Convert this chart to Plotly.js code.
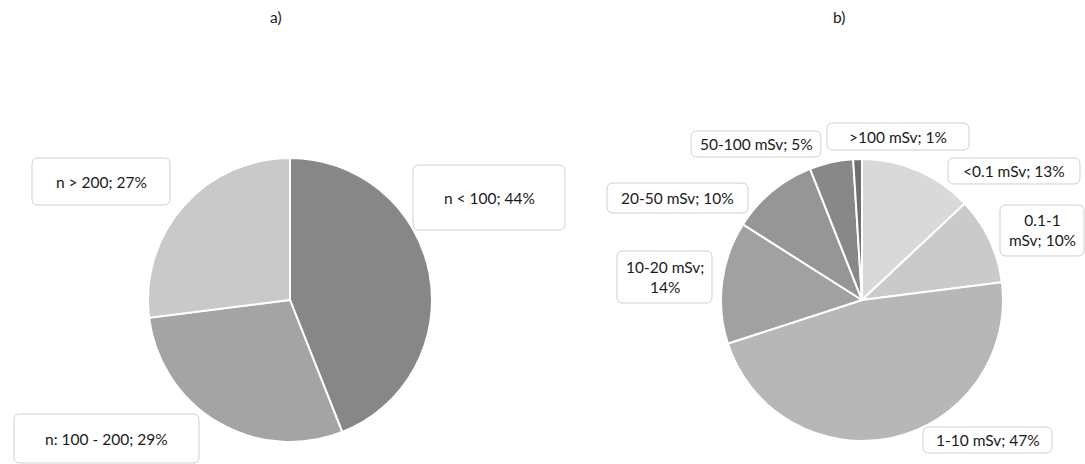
<!DOCTYPE html>
<html>
<head>
<meta charset="utf-8">
<script src="https://cdn.plot.ly/plotly-3.0.1.min.js"></script>
<style>html,body{margin:0;padding:0;background:#fff;} #chart{width:1085px;height:464px;}</style>
</head>
<body>
<div id="chart"></div>
<script>
// Data
const labelsA = ["n < 100", "n: 100 - 200", "n > 200"];
const valuesA = [44, 29, 27];
const colorsA = ["#878787", "#a4a4a4", "#c9c9c9"];

const labelsB = ["<0.1 mSv", "0.1-1 mSv", "1-10 mSv", "10-20 mSv", "20-50 mSv", "50-100 mSv", ">100 mSv"];
const valuesB = [13, 10, 47, 14, 10, 5, 1];
const colorsB = ["#d9d9d9", "#cacaca", "#b7b7b7", "#a1a1a1", "#969696", "#888888", "#6f6f6f"];

// Label box display text (line breaks as in reference)
const boxTextA = ["n < 100; 44%", "n: 100 - 200; 29%", "n > 200; 27%"];
const boxTextB = ["<0.1 mSv; 13%", "0.1-1<br>mSv; 10%", "1-10 mSv; 47%", "10-20 mSv;<br>14%", "20-50 mSv; 10%", "50-100 mSv; 5%", ">100 mSv; 1%"];

// Layout positions (pixels)
const W = 1085, H = 464;
const boxesA = [[413,165,565,230],[14,414,199,463],[32,158,170,205]];
const boxesB = [[948,158,1080,184],[1000,205,1084,256],[923,427,1052,453],[617,251,712,303],[607,183,748,213],[691,131,821,157],[827,123,969,150]];

function px(x){return x/W;}
function py(y){return 1 - y/H;}
function roundRect(b, r){
  const [x0,y0,x1,y1] = b;
  const p = (x,y)=> px(x).toFixed(5)+","+py(y).toFixed(5);
  return "M"+p(x0+r,y0)+" L"+p(x1-r,y0)+" Q"+p(x1,y0)+" "+p(x1,y0+r)+
         " L"+p(x1,y1-r)+" Q"+p(x1,y1)+" "+p(x1-r,y1)+
         " L"+p(x0+r,y1)+" Q"+p(x0,y1)+" "+p(x0,y1-r)+
         " L"+p(x0,y0+r)+" Q"+p(x0,y0)+" "+p(x0+r,y0)+" Z";
}

const FONT = "Lato, Carlito, Calibri, sans-serif";
const shapes = [], annotations = [];
function addBoxes(boxes, texts){
  boxes.forEach((b,i)=>{
    shapes.push({type:"path", xref:"paper", yref:"paper", path: roundRect(b,6),
      line:{color:"#cfcfcf", width:1}, fillcolor:"#ffffff", layer:"above"});
    annotations.push({xref:"paper", yref:"paper", x: px((b[0]+b[2])/2), y: py((b[1]+b[3])/2),
      xanchor:"center", yanchor:"middle", text: texts[i], showarrow:false,
      font:{family:FONT, size:15.5, color:"#1a1a1a"}});
  });
}
addBoxes(boxesA, boxTextA);
addBoxes(boxesB, boxTextB);

annotations.push({xref:"paper", yref:"paper", x:px(276), y:py(17), text:"a)", showarrow:false,
  xanchor:"center", yanchor:"middle", font:{family:FONT, size:15.5, color:"#1a1a1a"}});
annotations.push({xref:"paper", yref:"paper", x:px(839), y:py(17), text:"b)", showarrow:false,
  xanchor:"center", yanchor:"middle", font:{family:FONT, size:15.5, color:"#1a1a1a"}});

const traces = [
  {type:"pie", labels:labelsA, values:valuesA, sort:false, direction:"clockwise", rotation:0,
   marker:{colors:colorsA, line:{color:"#ffffff", width:2}}, textinfo:"none", hoverinfo:"label+percent",
   domain:{x:[px(148), px(432)], y:[py(442), py(158)]}},
  {type:"pie", labels:labelsB, values:valuesB, sort:false, direction:"clockwise", rotation:0,
   marker:{colors:colorsB, line:{color:"#ffffff", width:2}}, textinfo:"none", hoverinfo:"label+percent",
   domain:{x:[px(721), px(1003)], y:[py(441), py(159)]}}
];

const layout = {
  width: W, height: H, margin:{l:0,r:0,t:0,b:0}, showlegend:false,
  paper_bgcolor:"#ffffff", shapes: shapes, annotations: annotations
};
Plotly.newPlot("chart", traces, layout, {displayModeBar:false, staticPlot:true});
</script>
</body>
</html>
